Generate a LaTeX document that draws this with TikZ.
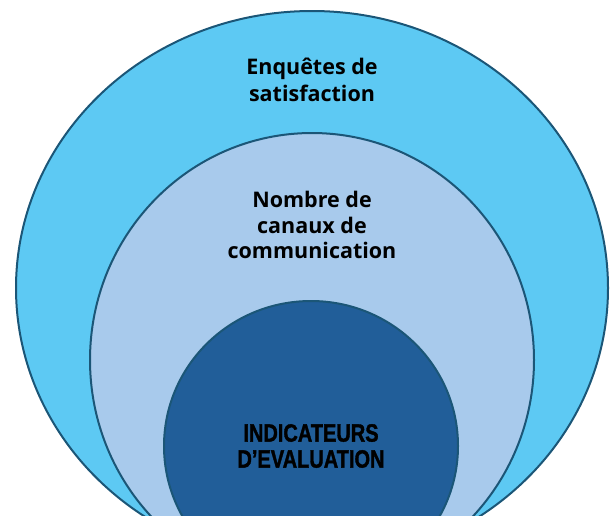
\documentclass[tikz,border=0pt]{standalone}
\usepackage{fontspec}
\setmainfont{Open Sans}
\newfontfamily\narrowfont[FakeStretch=0.8,FakeBold=1.4]{Liberation Sans}
\usetikzlibrary{shapes.geometric,positioning,calc}
\definecolor{ringout}{HTML}{5DC9F3}
\definecolor{ringmid}{HTML}{A8CAEC}
\definecolor{ringin}{HTML}{215E99}
\definecolor{ringline}{HTML}{1B5677}
\tikzset{ring/.style={ellipse,draw=ringline,line width=2pt,inner sep=0pt},
         caption/.style={align=center,inner sep=0pt,font=\bfseries\fontsize{21.5}{27}\selectfont}
     }

\begin{document}
\begin{tikzpicture}[x=1pt,y=-1pt]
\useasboundingbox (0,0) rectangle (610,515);
\clip (0,0) rectangle (610,515);
\node[ring,fill=ringout,minimum width=592pt,minimum height=554pt] (outer) at (312,288) {};
\node[ring,fill=ringmid,minimum width=444pt,minimum height=454pt] (middle) at (312,360) {};
\node[ring,fill=ringin,minimum width=294pt,minimum height=290pt] (inner) at (311,446) {};
\node[caption] (t1) at ([yshift=-70pt]outer.north) {Enquêtes de\\satisfaction};
\node[caption,font=\bfseries\fontsize{21.5}{25.5}\selectfont] (t2) at ([yshift=-93pt]middle.north) {Nombre de\\canaux de\\communication};
\node[caption,font=\narrowfont\bfseries\fontsize{25}{26}\selectfont] (t3) at (inner.center) {INDICATEURS\\D’EVALUATION};
\end{tikzpicture}
\end{document}
